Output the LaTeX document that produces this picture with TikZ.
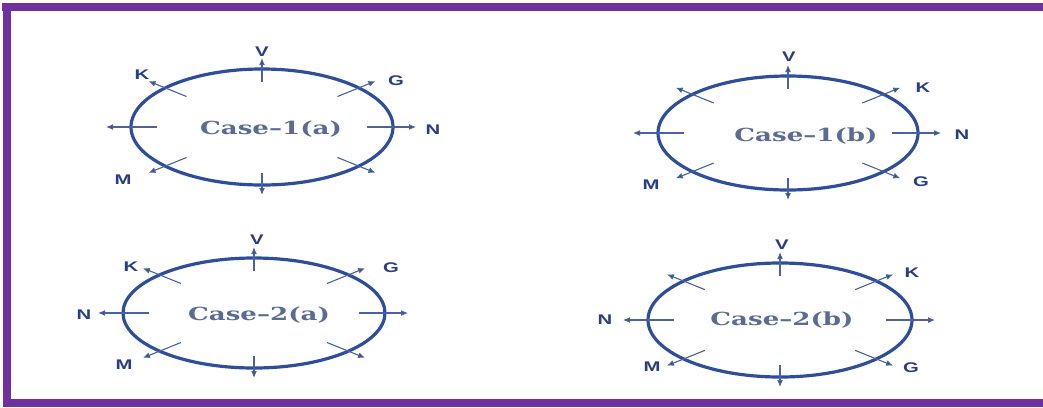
\documentclass[tikz,border=0pt]{standalone}
\usepackage{fontspec}
\setmainfont{Liberation Sans}
\newfontfamily\casefont{DejaVu Serif}
\usetikzlibrary{shapes.geometric,arrows.meta,calc}
\definecolor{frame}{HTML}{7030A0}
\definecolor{ellblue}{HTML}{2E4E9C}
\definecolor{raycol}{HTML}{4A62A0}
\definecolor{tipcol}{HTML}{2A4A98}
\definecolor{lblcol}{HTML}{283F86}
\definecolor{casecol}{HTML}{5A6C96}
\newcommand\wideL[1]{\scalebox{1.45}[1]{#1}}
\tikzset{
  ell/.style={ellipse, draw=ellblue, line width=3.2pt, inner sep=0pt, outer sep=0pt},
  ray/.style={draw=raycol, line width=1.1pt, -{Latex[length=7pt,width=6pt,fill=tipcol]}},
  lbl/.style={text=lblcol, font=\fontsize{14}{14}\selectfont\bfseries, inner sep=0pt},
  casetext/.style={text=casecol, font=\casefont\fontsize{18}{18}\selectfont\bfseries, inner sep=0pt}
}
\newcommand\drawcase[8]{%
  \node[ell, minimum width=#4pt, minimum height=#5pt] (#1) at (#2,#3) {};
  \node[casetext] (#1-t) at (#6,#7) {\wideL{#8}};
  \foreach \a/\i/\o in {90/13/11, 270/12/10, 0/26/23, 180/26/25, 22/23/18, 158/23/18, 202/23/18, 338/23/18} {
    \coordinate (#1-i\a) at ($(#1.\a)!\i pt!(#1.center)$);
    \coordinate (#1-o\a) at ($(#1.\a)!-\o pt!(#1.center)$);
    \draw[ray] (#1-i\a) -- (#1-o\a);
  }
}
\begin{document}
\begin{tikzpicture}[x=1pt,y=-1pt]
\useasboundingbox (0,0) rectangle (1043,407);
\fill[white] (0,0) rectangle (1043,407);
% frame
\fill[frame] (2,3) rectangle (1043,11);
\fill[frame] (3,3) rectangle (11,407);
\fill[frame] (3,399) rectangle (1043,407);

% Case-1(a)
\drawcase{ca}{262}{127}{262}{116}{271}{129}{Case–1(a)}
\node[lbl] (ca-V) at (262,52) {\wideL{V}};
\node[lbl] (ca-K) at (142,75) {\wideL{K}};
\node[lbl] (ca-G) at (396,81) {\wideL{G}};
\node[lbl] (ca-N) at (433,130) {\wideL{N}};
\node[lbl] (ca-M) at (123,180) {\wideL{M}};

% Case-1(b)
\drawcase{cb}{788}{133}{260}{114}{806}{136}{Case–1(b)}
\node[lbl] (cb-V) at (789,57) {\wideL{V}};
\node[lbl] (cb-K) at (923,88) {\wideL{K}};
\node[lbl] (cb-N) at (962,135) {\wideL{N}};
\node[lbl] (cb-G) at (921,182) {\wideL{G}};
\node[lbl] (cb-M) at (651,185) {\wideL{M}};

% Case-2(a)
\drawcase{cc}{254}{313}{262}{110}{259}{315}{Case–2(a)}
\node[lbl] (cc-V) at (257,240) {\wideL{V}};
\node[lbl] (cc-K) at (131,267) {\wideL{K}};
\node[lbl] (cc-G) at (391,268) {\wideL{G}};
\node[lbl] (cc-N) at (84,315) {\wideL{N}};
\node[lbl] (cc-M) at (124,365) {\wideL{M}};

% Case-2(b)
\drawcase{cd}{780}{320}{264}{114}{782}{320}{Case–2(b)}
\node[lbl] (cd-V) at (782,245) {\wideL{V}};
\node[lbl] (cd-K) at (912,273) {\wideL{K}};
\node[lbl] (cd-N) at (605,320) {\wideL{N}};
\node[lbl] (cd-G) at (911,368) {\wideL{G}};
\node[lbl] (cd-M) at (652,367) {\wideL{M}};
\end{tikzpicture}
\end{document}
